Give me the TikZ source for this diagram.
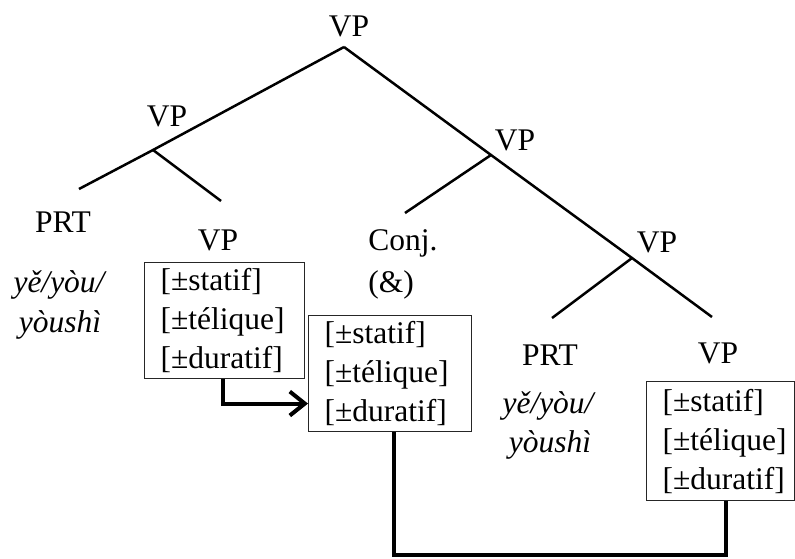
\documentclass[tikz,border=0pt]{standalone}
\usepackage{fontspec}
\setmainfont{Liberation Serif}
\usetikzlibrary{arrows.meta}

\tikzset{
  lbl/.style={anchor=base, inner sep=0pt},
  featbox/.style={draw=black!85, line width=1.1pt, anchor=north west, align=left,
    text width=128pt, inner xsep=16pt, inner ysep=0pt, minimum height=116pt},
  branch/.style={line width=2.5pt},
  link/.style={line width=4pt},
}
\newcommand{\featlist}{{[}±statif]\\{[}±télique]\\{[}±duratif]}

\begin{document}
\begin{tikzpicture}[x=1pt,y=-1pt,font=\fontsize{31.5}{39}\selectfont]
\useasboundingbox (0,0) rectangle (795,559);

% branching points
\coordinate (top) at (344,47);
\coordinate (vpl) at (153,150);
\coordinate (vpr) at (491,155);
\coordinate (vprr) at (632,258);
\coordinate (prtl) at (79,189);
\coordinate (vpll) at (221,201);
\coordinate (conj) at (405,213);
\coordinate (prtr) at (552,318);
\coordinate (vpend) at (712,317);

\draw[branch] (top) -- (vpl) -- (prtl);
\draw[branch] (vpl) -- (vpll);
\draw[branch] (top) -- (vpr) -- (vprr) -- (vpend);
\draw[branch] (vpr) -- (conj);
\draw[branch] (vprr) -- (prtr);

% labels
\node[lbl] (vp0) at (349,37) {VP};
\node[lbl] (vp1) at (167,127) {VP};
\node[lbl] (vp2) at (515,150) {VP};
\node[lbl] (vp3) at (657,252) {VP};
\node[lbl] (prt1) at (63,232) {PRT};
\node[lbl] (vp4) at (218,250) {VP};
\node[lbl] (cj) at (403,250) {Conj.};
\node[lbl] (amp) at (391,292) {(\&)};
\node[lbl] (prt2) at (550,365) {PRT};
\node[lbl] (vp5) at (718,363) {VP};
\node[lbl] (pa1) at (59,292) {\itshape yě/yòu/};
\node[lbl] (pb1) at (60,332) {\itshape yòushì};
\node[lbl] (pa2) at (548,413) {\itshape yě/yòu/};
\node[lbl] (pb2) at (550,452) {\itshape yòushì};

% feature boxes
\node[featbox] (b1) at (144,262) {\featlist};
\node[featbox, text width=131pt] (b2) at (308,315) {\featlist};
\node[featbox, text width=116pt, minimum height=119pt] (b3) at (646,381) {\featlist};

% connectors
\coordinate (floor) at (560,555);
\draw[link, -{Straight Barb[length=15pt,width=24pt]}] ([xshift=-2pt]b1.south) |- ([yshift=-30pt]b2.west);
\draw[link] ([xshift=4pt]b2.south) |- (floor) -| ([xshift=5pt]b3.south);
\end{tikzpicture}
\end{document}
